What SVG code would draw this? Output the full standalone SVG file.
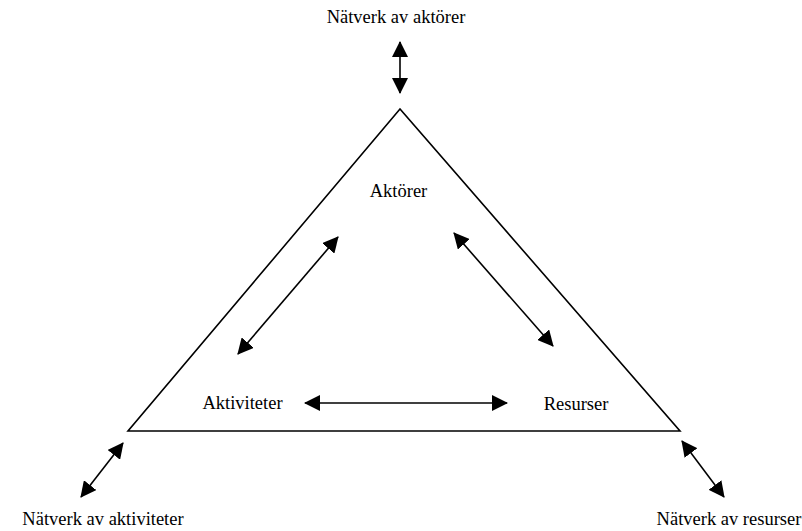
<svg xmlns="http://www.w3.org/2000/svg" width="802" height="531" viewBox="0 0 802 531">
<style>
text{font-family:"Liberation Serif","Times New Roman",serif;font-size:18.5px;fill:#000;text-anchor:middle}
.tri{fill:none;stroke:#000;stroke-width:1.6;stroke-linejoin:miter}
.c{stroke:#000;stroke-width:1.6;fill:none;marker-start:url(#ah);marker-end:url(#ah)}
</style>
<defs>
<marker id="ah" viewBox="0 0 16 16" refX="15" refY="8" markerWidth="16" markerHeight="16" markerUnits="userSpaceOnUse" orient="auto-start-reverse">
<path d="M0,0 L16,8 L0,16 z" fill="#000"/>
</marker>
</defs>
<rect width="802" height="531" fill="#fff"/>
<g id="triangle"><polygon class="tri" points="400,109 128,431 680,431"/></g>
<g id="n-aktorer"><text x="398.5" y="197">Aktörer</text></g>
<g id="n-aktiviteter"><text x="242.5" y="409">Aktiviteter</text></g>
<g id="n-resurser"><text x="576" y="410">Resurser</text></g>
<g id="n-natverk-aktorer"><text x="396" y="23">Nätverk av aktörer</text></g>
<g id="n-natverk-aktiviteter"><text x="103" y="525">Nätverk av aktiviteter</text></g>
<g id="n-natverk-resurser"><text x="729" y="525">Nätverk av resurser</text></g>
<g id="connectors">
<line class="c" x1="400" y1="42" x2="400" y2="93"/>
<line class="c" x1="123" y1="443" x2="81" y2="497"/>
<line class="c" x1="682" y1="441" x2="724" y2="497"/>
<line class="c" x1="338" y1="237" x2="238" y2="354"/>
<line class="c" x1="454" y1="233" x2="553" y2="346"/>
<line class="c" x1="305" y1="403" x2="507" y2="403"/>
</g>
</svg>
